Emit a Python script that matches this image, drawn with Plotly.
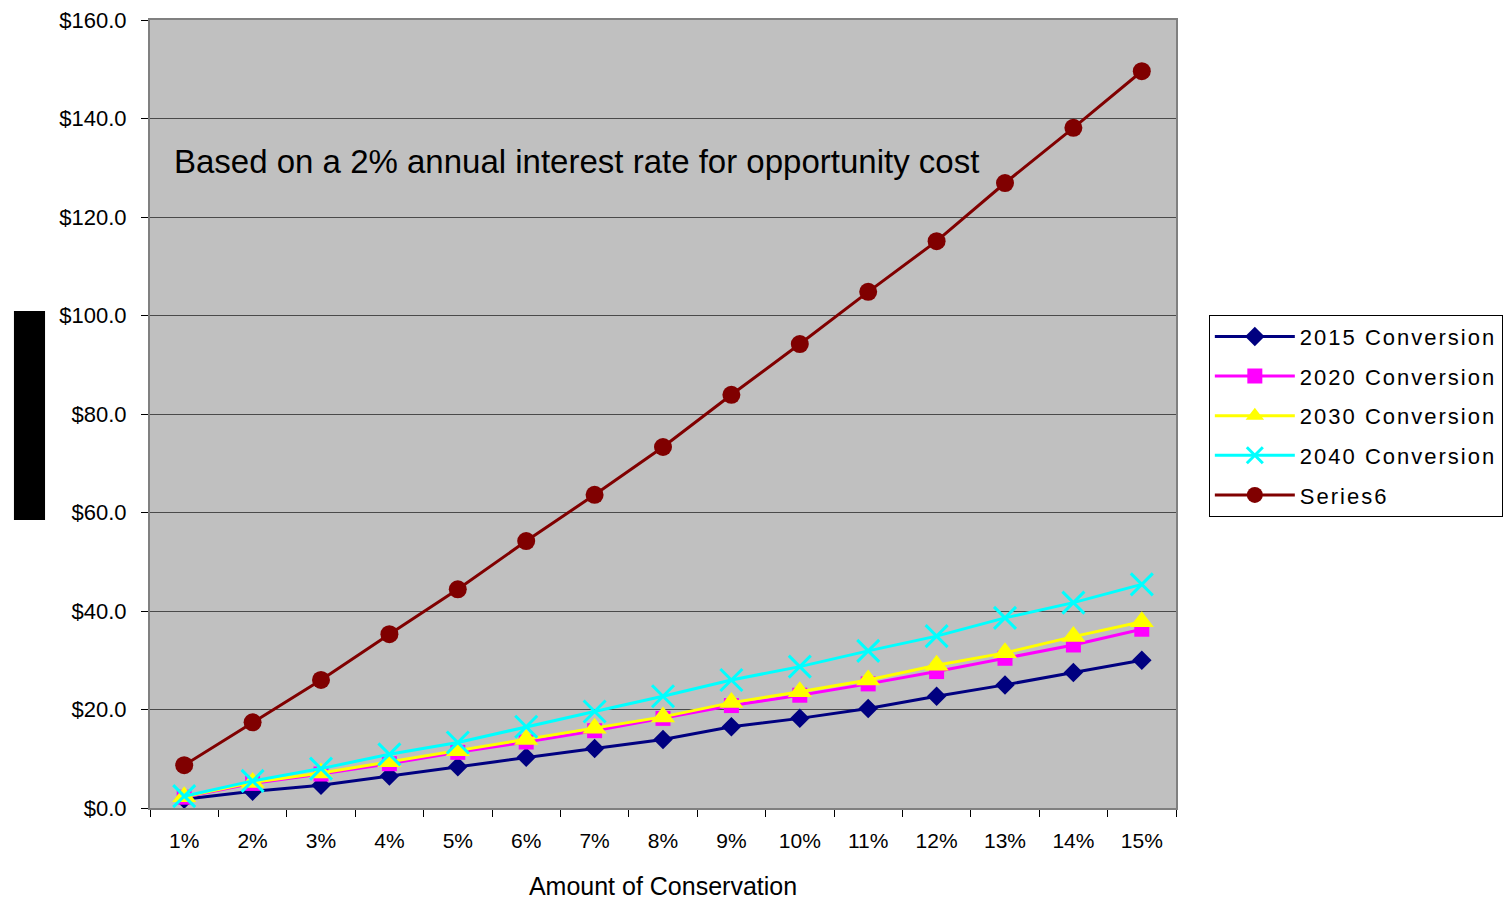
import plotly.graph_objects as go

categories = ["1%", "2%", "3%", "4%", "5%", "6%", "7%", "8%", "9%", "10%",
              "11%", "12%", "13%", "14%", "15%"]

conv_2015 = [1.8, 3.4, 4.6, 6.5, 8.4, 10.3, 12.1, 13.9, 16.5, 18.2, 20.2, 22.7, 25.0, 27.5, 30.0]
conv_2020 = [2.2, 5.0, 6.9, 9.0, 11.3, 13.4, 15.7, 18.2, 20.8, 22.9, 25.2, 27.7, 30.4, 33.1, 36.3]
conv_2030 = [2.3, 5.2, 7.1, 9.4, 11.6, 13.9, 16.2, 18.5, 21.4, 23.6, 26.0, 29.0, 31.5, 34.8, 37.8]
conv_2040 = [2.4, 5.5, 8.0, 10.9, 13.3, 16.5, 19.6, 22.7, 26.0, 28.7, 31.9, 34.9, 38.6, 41.7, 45.4]
series6 = [8.7, 17.4, 26.0, 35.3, 44.4, 54.2, 63.6, 73.3, 83.9, 94.2, 104.8, 115.1, 126.9, 138.1, 149.6]

series = [
    ("2015 Conversion", conv_2015, "#000080", "diamond", 15, 0),
    ("2020 Conversion", conv_2020, "#FF00FF", "square", 15, 0),
    ("2030 Conversion", conv_2030, "#FFFF00", "triangle-up", 21, 0),
    ("2040 Conversion", conv_2040, "#00FFFF", "x-thin", 22, 3),
    ("Series6", series6, "#800000", "circle", 18, 0),
]

FONT = "Liberation Sans, Arial, sans-serif"

fig = go.Figure()
for i, (name, vals, color, sym, size, lw) in enumerate(series):
    marker = dict(symbol=sym, size=size, color=color)
    if lw:
        marker["line"] = dict(color=color, width=lw)
    fig.add_trace(go.Scatter(
        x=categories, y=vals,
        name='<span style="letter-spacing:2px">' + name + '</span>',
        mode="lines+markers",
        line=dict(color=color, width=3), marker=marker,
        legendgroup=f"g{i}",
    ))

fig.add_annotation(
    text="Based on a 2% annual interest rate for opportunity cost",
    xref="paper", yref="paper", x=0.0214, y=0.821,
    xanchor="left", yanchor="middle", showarrow=False,
    font=dict(family=FONT, size=33, color="black"),
)

# black box left of the y axis (as in original)
fig.add_shape(type="rect", xref="paper", yref="paper",
              x0=-0.1326, x1=-0.1023, y0=0.3655, y1=0.6307,
              fillcolor="black", line=dict(width=0))

fig.update_layout(
    width=1508, height=900,
    margin=dict(l=150, r=332, t=20, b=92, autoexpand=False),
    paper_bgcolor="white", plot_bgcolor="#C0C0C0",
    font=dict(family=FONT, size=21, color="black"),
    showlegend=True,
    legend=dict(
        x=1.032, y=0.626, xanchor="left", yanchor="top",
        bgcolor="white", bordercolor="black", borderwidth=1,
        font=dict(family=FONT, size=22, color="black"),
        tracegroupgap=8, traceorder="grouped", itemwidth=80,
    ),
    xaxis=dict(
        type="category", tickson="boundaries", range=[-0.5, 14.5],
        automargin=False,
        ticks="outside", ticklen=7, tickcolor="black", tickwidth=1,
        showgrid=False, showline=True, linecolor="#808080", linewidth=2, mirror=True,
        tickfont=dict(family=FONT, size=21, color="black"),
        ticklabelstandoff=13,
        title=dict(text="Amount of Conservation", standoff=30,
                   font=dict(family=FONT, size=25, color="black")),
    ),
    yaxis=dict(
        range=[0, 160], dtick=20, tickprefix="$", tickformat=".1f",
        automargin=False,
        ticks="outside", ticklen=7, tickcolor="black", tickwidth=1,
        showgrid=True, gridcolor="#4a4a4a", gridwidth=1,
        showline=True, linecolor="#808080", linewidth=2, mirror=True,
        zeroline=False,
        tickfont=dict(family=FONT, size=22, color="black"),
        ticklabelstandoff=10,
    ),
)

fig.write_html("out.html")
